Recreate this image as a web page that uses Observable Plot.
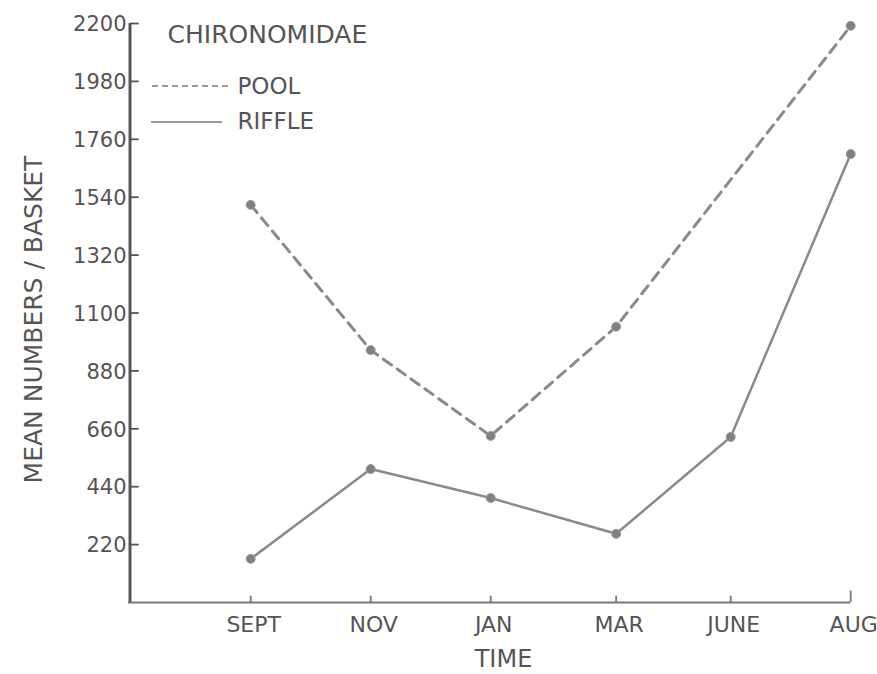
<!DOCTYPE html>
<html>
<head>
<meta charset="utf-8">
<script src="https://cdn.jsdelivr.net/npm/d3@7"></script>
<script src="https://cdn.jsdelivr.net/npm/@observablehq/plot@0.6"></script>
<style>
  html, body { margin: 0; padding: 0; background: #ffffff; }
  #chart { width: 877px; height: 674px; }
  svg { font-family: "DejaVu Sans", sans-serif; }
</style>
</head>
<body>
<div id="chart"></div>
<script>
// ---- data ----
const months = ["SEPT", "NOV", "JAN", "MAR", "JUNE", "AUG"];
// approximate sampling time, months since 1 Sept
const sampleTime = [0.5, 2.7, 4.9, 7.2, 9.3, 11.5];
const pool = [1511, 959, 633, 1048, null, 2191];
const riffle = [166, 507, 397, 261, 629, 1704];
const yTicks = [220, 440, 660, 880, 1100, 1320, 1540, 1760, 1980, 2200];
const title = "CHIRONOMIDAE";
const yLabel = "MEAN NUMBERS / BASKET";
const xLabel = "TIME";
const seriesNames = ["POOL", "RIFFLE"];

// ---- build tables ----
const poolRows = months.map((m, i) => ({month: m, t: sampleTime[i], v: pool[i]})).filter(d => d.v != null);
const riffleRows = months.map((m, i) => ({month: m, t: sampleTime[i], v: riffle[i]}));
const monthRows = months.map((m, i) => ({month: m, t: sampleTime[i]}));

const xMin = -1.74, xMax = 11.9;
const ink = "#555555";
const lineInk = "#8a8a8a";
const yTickLen = 0.16;   // tick length in x units (~8 px)
const xTickLen = 24;     // tick length in y units (~6 px)

const chart = Plot.plot({
  width: 877,
  height: 674,
  marginLeft: 128,
  marginRight: 5,
  marginTop: 23,
  marginBottom: 72,
  style: {background: "#ffffff", fontFamily: "DejaVu Sans, sans-serif", color: ink},
  x: {domain: [xMin, xMax], axis: null},
  y: {domain: [0, 2200], axis: null},
  marks: [
    // y axis line
    Plot.ruleX([xMin], {y1: 0, y2: 2200, stroke: ink, strokeWidth: 3, dx: 1.5}),
    // x axis line
    Plot.ruleY([0], {x1: xMin, x2: sampleTime[sampleTime.length - 1], stroke: "#777", strokeWidth: 2}),
    // y ticks (inward, to the right)
    Plot.ruleY(yTicks, {y: d => d, x1: xMin, x2: xMin + yTickLen, stroke: ink, strokeWidth: 1.8, dx: 2}),
    Plot.text(yTicks, {x: xMin, y: d => d, text: d => String(d), textAnchor: "end", dx: -2, dy: 1, fontSize: 21, fill: ink}),
    // x ticks (upward)
    Plot.ruleX(monthRows.slice(0, -1), {x: "t", y1: 0, y2: xTickLen, stroke: "#777", strokeWidth: 1.8}),
    Plot.ruleX(monthRows.slice(-1), {x: "t", y1: 0, y2: xTickLen * 1.8, stroke: "#777", strokeWidth: 1.8}),
    Plot.text(monthRows, {x: "t", y: 0, text: "month", dy: 22, dx: 3, fontSize: 22, fill: ink, lineAnchor: "middle"}),
    // series
    Plot.line(poolRows, {x: "t", y: "v", stroke: lineInk, strokeWidth: 3, strokeDasharray: "10,7"}),
    Plot.line(riffleRows, {x: "t", y: "v", stroke: lineInk, strokeWidth: 2.5}),
    Plot.dot(poolRows, {x: "t", y: "v", r: 4.5, fill: "#808080", stroke: "#9a9a9a", strokeWidth: 1}),
    Plot.dot(riffleRows, {x: "t", y: "v", r: 4.5, fill: "#808080", stroke: "#9a9a9a", strokeWidth: 1}),
    // texts
    Plot.text([title], {frameAnchor: "top-left", textAnchor: "start", lineAnchor: "middle", dx: 39, dy: 11, fontSize: 25, fill: ink}),
    Plot.text([seriesNames[0]], {frameAnchor: "top-left", textAnchor: "start", lineAnchor: "middle", dx: 109, dy: 63, fontSize: 23, fill: ink, letterSpacing: "1.5px"}),
    Plot.text([seriesNames[1]], {frameAnchor: "top-left", textAnchor: "start", lineAnchor: "middle", dx: 109, dy: 98, fontSize: 23, fill: ink, letterSpacing: "1.5px"}),
    Plot.text([yLabel], {frameAnchor: "left", rotate: -90, textAnchor: "middle", lineAnchor: "middle", dx: -95, dy: 6.5, fontSize: 25, fill: ink, letterSpacing: "1px"}),
    Plot.text([xLabel], {frameAnchor: "bottom", textAnchor: "middle", lineAnchor: "middle", dx: 3, dy: 57, fontSize: 24, fill: ink, letterSpacing: "2px"})
  ]
});

// legend line samples
const svg = d3.select(chart);
svg.append("line").attr("x1", 152).attr("x2", 228).attr("y1", 86).attr("y2", 86)
  .attr("stroke", "#777").attr("stroke-width", 1.6).attr("stroke-dasharray", "6,4");
svg.append("line").attr("x1", 151).attr("x2", 222).attr("y1", 122).attr("y2", 122)
  .attr("stroke", "#777").attr("stroke-width", 1.6);

document.getElementById("chart").appendChild(chart);
</script>
</body>
</html>
